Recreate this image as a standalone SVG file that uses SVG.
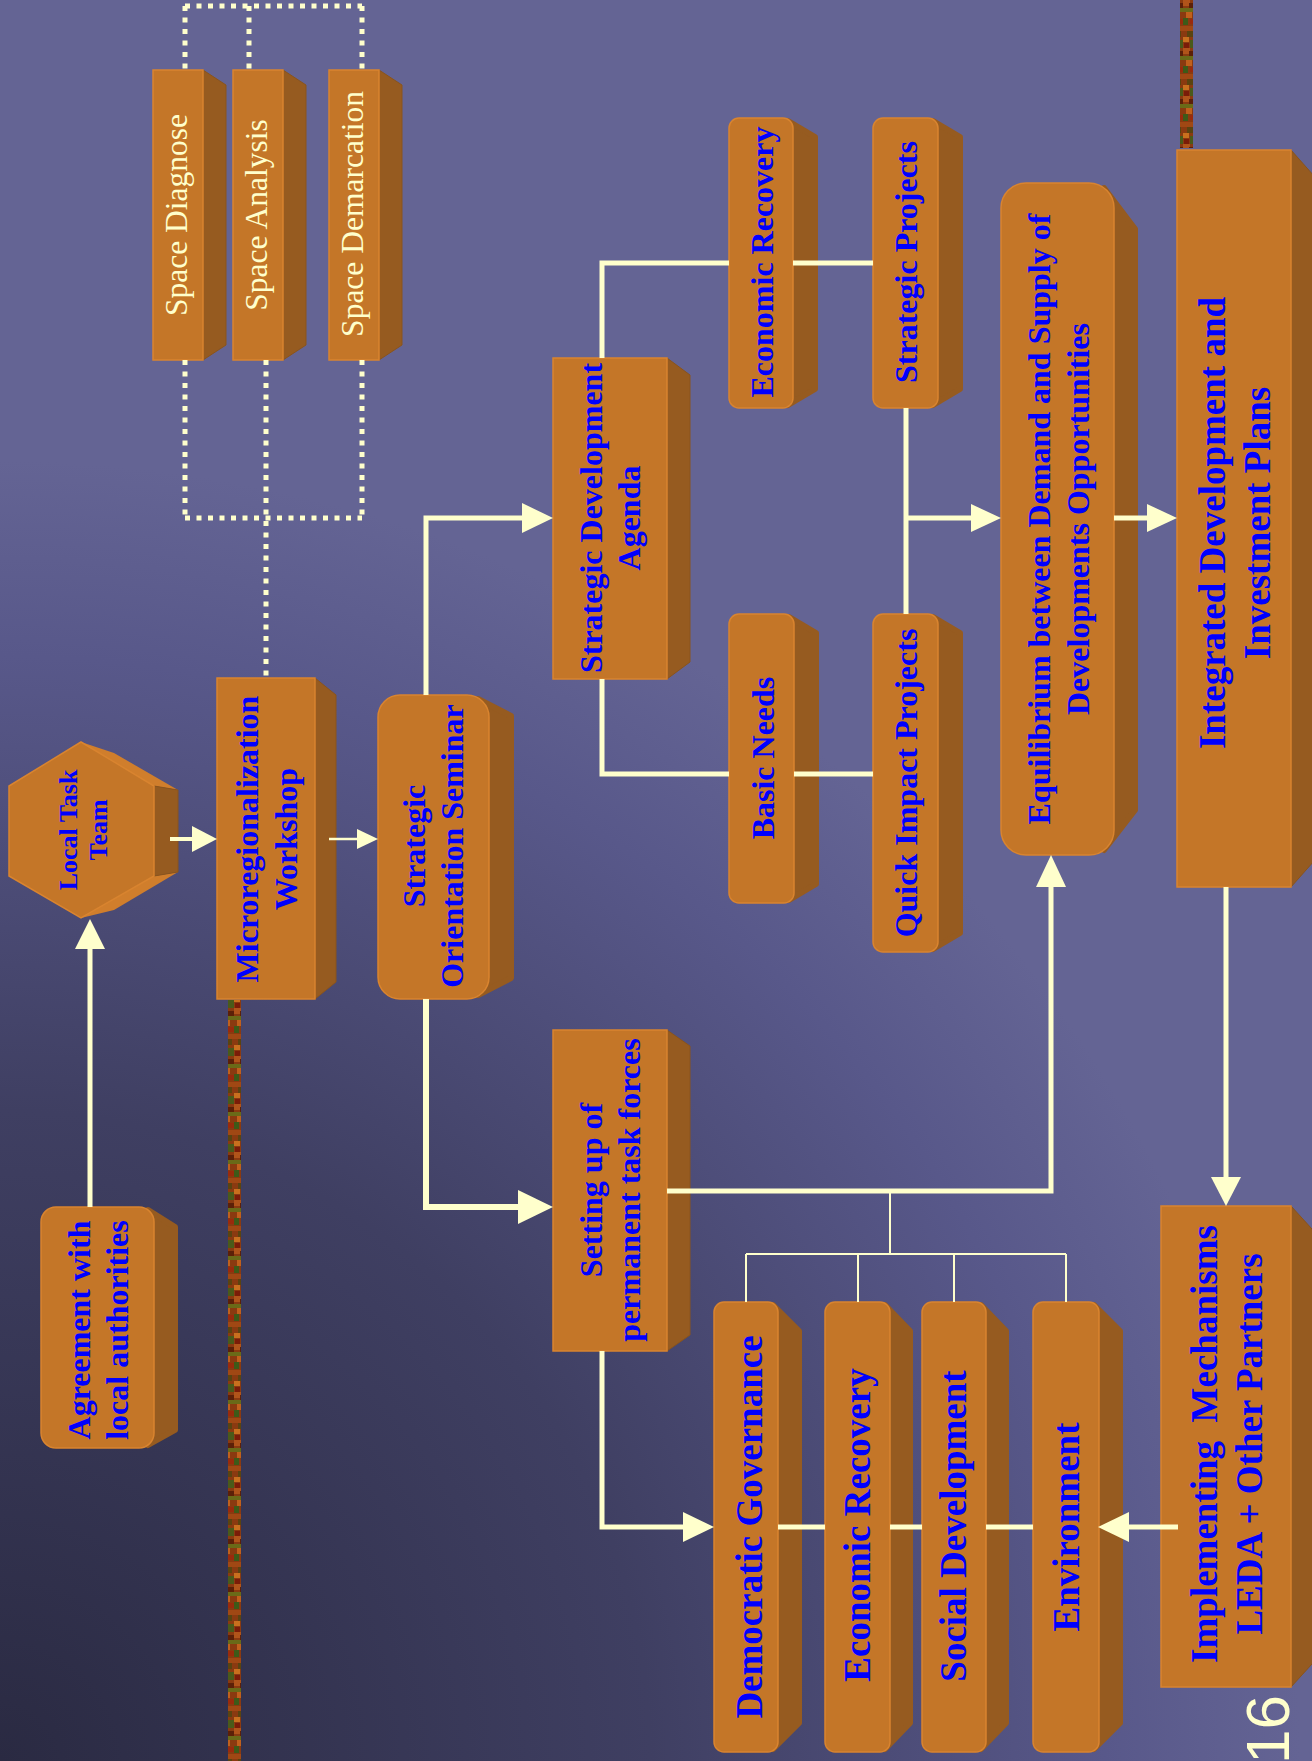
<svg xmlns="http://www.w3.org/2000/svg" width="1312" height="1761" viewBox="0 0 1312 1761">
<defs>
<radialGradient id="bg" gradientUnits="userSpaceOnUse" cx="0" cy="1761" r="1300">
<stop offset="0" stop-color="#2a2a42"/>
<stop offset="0.5" stop-color="#3f3f62"/>
<stop offset="0.85" stop-color="#58588a"/>
<stop offset="1" stop-color="#646494"/>
</radialGradient>
<pattern id="tex" patternUnits="userSpaceOnUse" width="13" height="48">
<rect width="13" height="48" fill="#8a3a10"/>
<rect x="0" y="0" width="7" height="6" fill="#b0541a"/>
<rect x="6" y="3" width="7" height="5" fill="#5c2008"/>
<rect x="0" y="8" width="13" height="4" fill="#6a6a18"/>
<rect x="3" y="12" width="6" height="6" fill="#c0601c"/>
<rect x="0" y="18" width="5" height="7" fill="#3e5a18"/>
<rect x="7" y="19" width="6" height="5" fill="#9a2a0c"/>
<rect x="0" y="26" width="13" height="5" fill="#a04814"/>
<rect x="4" y="31" width="7" height="6" fill="#5a4410"/>
<rect x="0" y="37" width="6" height="5" fill="#c8701e"/>
<rect x="7" y="40" width="6" height="8" fill="#4a5a1a"/>
<rect x="1" y="43" width="5" height="5" fill="#7a1c08"/>
</pattern>
<style>
.f{fill:#c47628;stroke:#d9842f;stroke-width:1.5}
.s{fill:#965b20;stroke:#8a541c;stroke-width:1}
.sr{fill:#965b20;stroke:#965b20;stroke-width:6;stroke-linejoin:round}
.bv{fill:#d07e2c}
.t{font-family:"Liberation Serif","Times New Roman",serif;font-weight:bold;fill:#0000ff;text-anchor:middle}
.t32{font-size:32px}
.t37{font-size:37px}
.c{font-family:"Liberation Serif","Times New Roman",serif;font-size:31.5px;fill:#ffffcc;text-anchor:middle}
.ln{fill:none;stroke:#ffffcc;stroke-width:5}
.thin{fill:none;stroke:#ffffcc;stroke-width:2}
.dot{fill:none;stroke:#ffffcc;stroke-width:5;stroke-dasharray:5 6.5}
.ah{fill:#ffffcc}
</style>
</defs>
<rect width="1312" height="1761" fill="url(#bg)"/>
<rect x="228" y="1000" width="13" height="761" fill="url(#tex)"/>
<rect x="1180" y="0" width="13" height="148" fill="url(#tex)"/>

<g id="space-diagnose">
<polygon class="s" points="203,70 226,85 226,345 203,360"/>
<rect class="f" x="153" y="70" width="50" height="290"/>
<text class="c" transform="translate(0,215) rotate(-90)"><tspan x="0" y="187">Space Diagnose</tspan></text>
</g>
<g id="space-analysis">
<polygon class="s" points="283,70 306,85 306,345 283,360"/>
<rect class="f" x="233" y="70" width="50" height="290"/>
<text class="c" transform="translate(0,215) rotate(-90)"><tspan x="0" y="267">Space Analysis</tspan></text>
</g>
<g id="space-demarcation">
<polygon class="s" points="379,70 402,85 402,345 379,360"/>
<rect class="f" x="329" y="70" width="50" height="290"/>
<text class="c" transform="translate(0,214) rotate(-90)"><tspan x="0" y="363">Space Demarcation</tspan></text>
</g>

<g id="local-task-team">
<polygon class="bv" points="81,742 114,753 178,790 154,786"/>
<polygon class="bv" points="81,918 114,910 178,872 154,876"/>
<polygon class="s" points="154,786 178,790 178,872 154,876"/>
<polygon class="f" points="81,742 154,786 154,876 81,918 9,876 9,786"/>
<text class="t" style="font-size:26px" transform="translate(0,830) rotate(-90)"><tspan x="0" y="77">Local Task</tspan><tspan x="0" y="107">Team</tspan></text>
</g>

<g id="microregionalization-workshop">
<polygon class="s" points="315,678 336,695 336,982 315,999"/>
<rect class="f" x="217" y="678" width="98" height="321"/>
<text class="t t32" transform="translate(0,839) rotate(-90)"><tspan x="0" y="258">Microregionalization</tspan><tspan x="0" y="297">Workshop</tspan></text>
</g>

<g id="strategic-orientation-seminar">
<polygon class="sr" points="478,699 511,716 511,978 478,995"/>
<rect class="f" x="378" y="695" width="111" height="304" rx="22"/>
<text class="t t32" transform="translate(0,846) rotate(-90)"><tspan x="0" y="425">Strategic</tspan><tspan x="0" y="463">Orientation Seminar</tspan></text>
</g>

<g id="strategic-development-agenda">
<polygon class="s" points="667,358 690,375 690,662 667,679"/>
<rect class="f" x="553" y="358" width="114" height="321"/>
<text class="t t32" transform="translate(0,518) rotate(-90)"><tspan x="0" y="602">Strategic Development</tspan><tspan x="0" y="640">Agenda</tspan></text>
</g>

<g id="economic-recovery-1">
<polygon class="sr" points="788,121 815,137 815,389 788,405"/>
<rect class="f" x="729" y="118" width="64" height="290" rx="10"/>
<text class="t t32" transform="translate(0,262) rotate(-90)"><tspan x="0" y="773">Economic Recovery</tspan></text>
</g>
<g id="strategic-projects">
<polygon class="sr" points="933,121 960,137 960,389 933,405"/>
<rect class="f" x="873" y="118" width="65" height="290" rx="10"/>
<text class="t t32" transform="translate(0,262) rotate(-90)"><tspan x="0" y="917">Strategic Projects</tspan></text>
</g>
<g id="basic-needs">
<polygon class="sr" points="789,617 816,633 816,884 789,900"/>
<rect class="f" x="729" y="614" width="65" height="289" rx="10"/>
<text class="t t32" transform="translate(0,758) rotate(-90)"><tspan x="0" y="774">Basic Needs</tspan></text>
</g>
<g id="quick-impact-projects">
<polygon class="sr" points="933,617 960,633 960,933 933,949"/>
<rect class="f" x="873" y="614" width="65" height="338" rx="10"/>
<text class="t t32" transform="translate(0,783) rotate(-90)"><tspan x="0" y="917">Quick Impact Projects</tspan></text>
</g>

<g id="equilibrium">
<polygon class="sr" points="1104,188 1135,229 1135,810 1104,850"/>
<rect class="f" x="1001" y="183" width="113" height="672" rx="25"/>
<text class="t t32" transform="translate(0,519) rotate(-90)"><tspan x="0" y="1050">Equilibrium between Demand and Supply of</tspan><tspan x="0" y="1089">Developments Opportunities</tspan></text>
</g>

<g id="integrated-development-plans">
<polygon class="s" points="1291,150 1322,185 1322,852 1291,887"/>
<rect class="f" x="1177" y="150" width="114" height="737"/>
<text class="t t37" transform="translate(0,523) rotate(-90)"><tspan x="0" y="1225">Integrated Development and</tspan><tspan x="0" y="1270">Investment Plans</tspan></text>
</g>

<g id="implementing-mechanisms">
<polygon class="s" points="1291,1206 1322,1240 1322,1653 1291,1687"/>
<rect class="f" x="1161" y="1206" width="130" height="481"/>
<text class="t t37" xml:space="preserve" transform="translate(0,1444) rotate(-90)"><tspan x="0" y="1217">Implementing  Mechanisms</tspan><tspan x="0" y="1262">LEDA + Other Partners</tspan></text>
</g>

<g id="setting-up-task-forces">
<polygon class="s" points="667,1030 690,1046 690,1335 667,1351"/>
<rect class="f" x="553" y="1030" width="114" height="321"/>
<text class="t t32" transform="translate(0,1190) rotate(-90)"><tspan x="0" y="602">Setting up of</tspan><tspan x="0" y="640">permanent task forces</tspan></text>
</g>

<g id="democratic-governance">
<polygon class="sr" points="773,1305 799,1331 799,1723 773,1749"/>
<rect class="f" x="714" y="1302" width="64" height="450" rx="10"/>
<text class="t t37" transform="translate(0,1527) rotate(-90)"><tspan x="0" y="762">Democratic Governance</tspan></text>
</g>
<g id="economic-recovery-2">
<polygon class="sr" points="885,1305 910,1331 910,1723 885,1749"/>
<rect class="f" x="825" y="1302" width="65" height="450" rx="10"/>
<text class="t t37" transform="translate(0,1525) rotate(-90)"><tspan x="0" y="870">Economic Recovery</tspan></text>
</g>
<g id="social-development">
<polygon class="sr" points="981,1305 1006,1331 1006,1723 981,1749"/>
<rect class="f" x="922" y="1302" width="64" height="450" rx="10"/>
<text class="t t37" transform="translate(0,1526) rotate(-90)"><tspan x="0" y="966">Social Development</tspan></text>
</g>
<g id="environment">
<polygon class="sr" points="1094,1305 1120,1331 1120,1723 1094,1749"/>
<rect class="f" x="1033" y="1302" width="66" height="450" rx="10"/>
<text class="t t37" transform="translate(0,1527) rotate(-90)"><tspan x="0" y="1079">Environment</tspan></text>
</g>

<g id="agreement-local-authorities">
<polygon class="sr" points="148,1210 175,1227 175,1430 148,1445"/>
<rect class="f" x="41" y="1207" width="113" height="241" rx="15"/>
<text class="t t32" transform="translate(0,1330) rotate(-90)"><tspan x="0" y="90">Agreement with</tspan><tspan x="0" y="128">local authorities</tspan></text>
</g>

<g id="page-number">
<text style="font-family:'Liberation Sans',Arial,sans-serif;font-size:62px;fill:#ffffcc" transform="translate(0,1764) rotate(-90)"><tspan x="0" y="1289">16</tspan></text>
</g>

<g id="connectors">
<path class="dot" d="M185,6 H362 M185,6 V70 M185,360 V518 M362,6 V70 M362,360 V518 M185,518 H362 M249,6 V70 M266,360 V677"/>
<path class="ln" d="M90,1207 V948"/>
<polygon class="ah" points="90,919 75,949 105,949"/>
<path class="ln" style="stroke-width:4" d="M170,839 H194"/>
<polygon class="ah" points="217,839 192,826 192,852"/>
<path class="ln" style="stroke-width:2.5" d="M329,839 H359"/>
<polygon class="ah" points="378,839 357,829 357,849"/>
<path class="ln" d="M426,695 V518 H524"/>
<polygon class="ah" points="553,518 522,503 522,533"/>
<path class="ln" style="stroke-width:6" d="M426,999 V1207 H520"/>
<polygon class="ah" points="553,1207 518,1190 518,1224"/>
<path class="ln" d="M602,358 V263 H729 M793,263 H873"/>
<path class="ln" d="M602,679 V774 H729 M794,774 H873"/>
<path class="ln" d="M906,408 V614 M906,518 H973"/>
<polygon class="ah" points="1001,518 971,504 971,532"/>
<path class="ln" d="M1114,518 H1149"/>
<polygon class="ah" points="1177,518 1147,504 1147,532"/>
<path class="ln" d="M1226,887 V1179"/>
<polygon class="ah" points="1226,1206 1211,1177 1241,1177"/>
<path class="ln" d="M667,1191 H1051 V885"/>
<polygon class="ah" points="1051,855 1036,887 1066,887"/>
<path class="thin" d="M890,1191 V1254 M746,1254 H1066 M746,1254 V1302 M858,1254 V1302 M954,1254 V1302 M1066,1254 V1302"/>
<path class="ln" d="M602,1351 V1527 H685"/>
<polygon class="ah" points="714,1527 683,1512 683,1542"/>
<path class="ln" d="M778,1527 H825 M890,1527 H922 M986,1527 H1033"/>
<path class="ln" d="M1178,1527 H1127"/>
<polygon class="ah" points="1098,1527 1129,1512 1129,1542"/>
</g>
</svg>
